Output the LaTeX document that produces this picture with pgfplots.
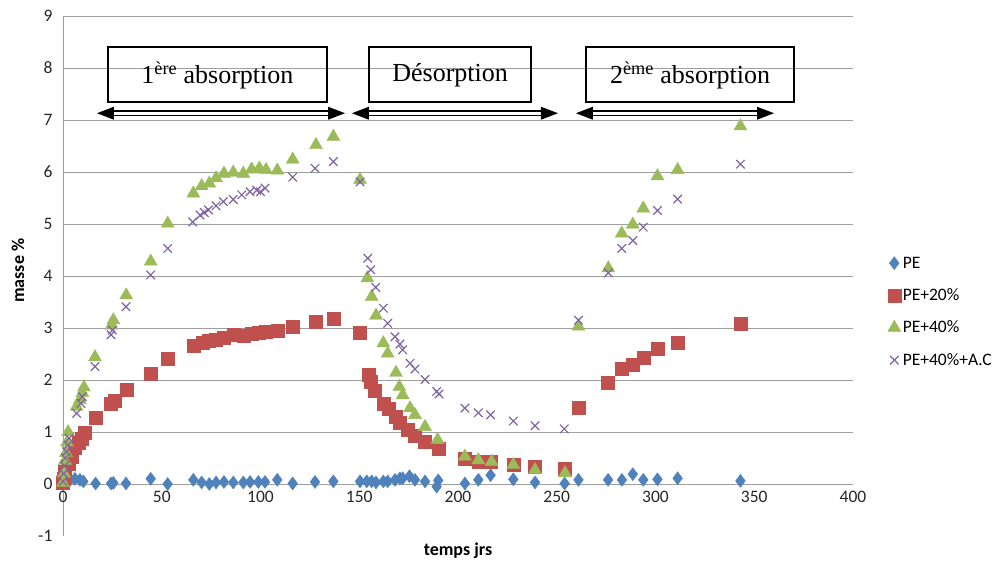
\documentclass[border=0pt]{standalone}
\usepackage{pgfplots}
\pgfplotsset{compat=1.18}
\usepackage{pgfplotstable}
\usepackage{fontspec}
\setmainfont{Liberation Serif}
\newfontfamily\calibri{Carlito}
\definecolor{cPE}{HTML}{4F81BD}
\definecolor{cPEa}{HTML}{C0504D}
\definecolor{cPEb}{HTML}{9BBB59}
\definecolor{cPEc}{HTML}{8064A2}

\pgfplotstableread{
t y
0 0.00
1 0.03
3 0.05
6 0.10
8.6 0.08
10.3 0.05
16.5 0.01
24.3 0.01
25.5 0.02
31.9 0.01
44.4 0.10
53 0.00
66 0.08
70.2 0.03
74.1 0.00
77.5 0.03
81.5 0.04
86.2 0.03
91.3 0.03
94.7 0.04
98.9 0.04
102.3 0.04
108.5 0.08
116.3 0.01
127.6 0.04
136.9 0.05
150.4 0.05
153.8 0.05
156.3 0.05
158.5 0.03
162.2 0.05
164.4 0.05
168.1 0.08
170.6 0.11
172 0.11
175.4 0.15
178.2 0.08
183.3 0.05
189.2 -0.05
190 0.07
203.5 0.01
210.3 0.08
216.5 0.17
228 0.09
239 0.03
254 0.01
261 0.08
276 0.08
283 0.08
288.5 0.19
293.8 0.08
301 0.09
311.2 0.11
343 0.06
}\tPE

\pgfplotstableread{
t y
0 0.02
0.5 0.11
1 0.24
2.7 0.40
4.4 0.53
6 0.70
7.8 0.79
9.5 0.88
11 0.98
16.5 1.27
24.3 1.55
26 1.60
32 1.81
44.6 2.12
52.8 2.40
66 2.65
70.7 2.72
74 2.75
77.5 2.78
81.2 2.82
86.2 2.88
91.3 2.86
95.5 2.89
98.9 2.91
102.8 2.92
108.5 2.94
116.3 3.03
128.1 3.13
137 3.18
150.4 2.91
154.6 2.10
155.8 1.97
158 1.79
162.2 1.55
164.7 1.44
168.6 1.29
170.6 1.17
174.3 1.04
178.2 0.92
183.3 0.81
190 0.67
203.5 0.49
210.3 0.43
216.5 0.43
228 0.37
239 0.33
254 0.30
261 1.47
276 1.94
283 2.22
288.5 2.29
293.8 2.42
301 2.61
311.2 2.72
343 3.09
}\tPEa

\pgfplotstableread{
t y
0 0.02
0.5 0.20
1 0.45
1.5 0.60
2 0.80
2.6 1.00
6.9 1.49
8.6 1.62
9.8 1.75
10.6 1.86
16.2 2.44
24.6 3.05
25.5 3.15
32 3.63
44.4 4.28
53 5.01
66 5.59
70.2 5.73
74.1 5.78
77.5 5.88
81.5 5.97
86.2 5.99
91.3 5.97
95.5 6.05
99.4 6.07
102.8 6.04
108.5 6.03
116.3 6.24
128.1 6.52
136.9 6.68
150.4 5.85
154.1 3.96
156.3 3.60
158.5 3.24
162.2 2.71
164.4 2.51
168.6 2.14
170.3 1.87
172 1.71
175.7 1.46
178.2 1.33
183.3 1.10
189.7 0.85
203.5 0.53
210.3 0.46
217 0.43
228 0.37
239 0.27
254.2 0.21
261 3.03
276.1 4.15
282.9 4.82
288.5 4.99
293.8 5.30
301 5.92
311.2 6.04
343 6.88
}\tPEb

\pgfplotstableread{
t y
0 0.05
0.3 0.20
0.8 0.35
1.2 0.50
1.8 0.62
2.5 0.75
3.2 0.88
6.9 1.36
9.1 1.55
9.8 1.68
16.2 2.26
24.3 2.87
25 2.96
31.9 3.41
44.4 4.02
53 4.53
65.7 5.04
69.4 5.17
71.5 5.22
73.6 5.27
77.5 5.35
81.2 5.43
86.2 5.47
90.5 5.56
94.7 5.62
98.1 5.65
100 5.62
102.3 5.69
116.3 5.90
127.6 6.07
136.9 6.20
150.4 5.81
154.3 4.34
155.8 4.12
158.3 3.78
162.2 3.38
164.4 3.09
168.1 2.83
170.6 2.69
172 2.58
175.7 2.32
178.2 2.21
183.3 2.01
189.2 1.78
190.4 1.73
203.5 1.46
210.3 1.37
216.5 1.33
228 1.21
239 1.12
253.8 1.06
261 3.15
276.1 4.06
282.9 4.53
288.5 4.68
293.8 4.94
301 5.26
311.2 5.48
343 6.15
}\tPEc

\begin{document}
\begin{tikzpicture}
\useasboundingbox (0,0) rectangle (995pt,560pt);
\begin{axis}[
  at={(63pt,24pt)}, anchor=south west,
  scale only axis, width=790pt, height=520pt,
  xmin=0, xmax=400, ymin=-1, ymax=9,
  axis x line=middle, axis y line=left,
  hide obscured x ticks=false, hide obscured y ticks=false,
  axis line style={draw=gray!75, line width=0.8pt, -},
  xtick={0,50,...,400}, ytick={0,1,...,9},
  extra y ticks={-1}, extra y tick style={grid=none},
  ymajorgrids, major grid style={draw=gray!75, line width=0.8pt},
  major tick length=0pt,
  /pgf/number format/assume math mode=true,
  tick label style={font=\calibri\fontsize{17.5}{17.5}\selectfont, text=black!85},
  xticklabel style={yshift=-4pt},
  yticklabel style={xshift=-7pt},
  xlabel={temps jrs}, ylabel={masse \%},
  xlabel style={at={(rel axis cs:0.5,0)}, anchor=north, yshift=-3pt, font=\calibri\bfseries\fontsize{18}{18}\selectfont},
  ylabel style={at={(axis description cs:-0.057,0.51)}, anchor=center, font=\calibri\bfseries\fontsize{18}{18}\selectfont},
  clip=false,
  legend style={at={(1.04,0.545)}, anchor=north west, draw=none, fill=none,
    font=\calibri\fontsize{17.5}{17.5}\selectfont, row sep=15pt},
  legend cell align=left,
]
\addplot[only marks, mark=diamond*, mark size=6.5pt, color=cPE] table[x=t,y=y] {\tPE};
\addlegendentry{PE}
\addplot[only marks, mark=square*, mark size=6.5pt, color=cPEa] table[x=t,y=y] {\tPEa};
\addlegendentry{PE+20\%}
\addplot[only marks, mark=triangle*, mark size=7.5pt, color=cPEb] table[x=t,y=y] {\tPEb};
\addlegendentry{PE+40\%}
\addplot[only marks, mark=x, mark size=6pt, line width=1.2pt, color=cPEc] table[x=t,y=y] {\tPEc};
\addlegendentry{PE+40\%+A.C}

\draw[line width=1.5pt] (axis cs:22.8,7.35) rectangle (axis cs:133.7,8.40);
\node[font=\fontsize{26}{26}\selectfont] at (axis cs:78.2,7.86) {1\textsuperscript{ère} absorption};
\draw[line width=1.5pt] (axis cs:154.9,7.35) rectangle (axis cs:237.0,8.40);
\node[font=\fontsize{26}{26}\selectfont] at (axis cs:196,7.86) {Désorption};
\draw[line width=1.5pt] (axis cs:264.8,7.35) rectangle (axis cs:370.1,8.40);
\node[font=\fontsize{26}{26}\selectfont] at (axis cs:317.5,7.86) {2\textsuperscript{ème} absorption};
% arrows
\fill (axis cs:17.2,7.13) -- (axis cs:25.8,7.255) -- (axis cs:25.8,7.005) -- cycle;
\fill (axis cs:142.8,7.13) -- (axis cs:134.2,7.255) -- (axis cs:134.2,7.005) -- cycle;
\draw[line width=1.3pt] (axis cs:25,7.172) -- (axis cs:135,7.172);
\draw[line width=1.3pt] (axis cs:25,7.088) -- (axis cs:135,7.088);
\fill (axis cs:146.3,7.13) -- (axis cs:154.9,7.255) -- (axis cs:154.9,7.005) -- cycle;
\fill (axis cs:250.6,7.13) -- (axis cs:242.0,7.255) -- (axis cs:242.0,7.005) -- cycle;
\draw[line width=1.3pt] (axis cs:154,7.172) -- (axis cs:242.8,7.172);
\draw[line width=1.3pt] (axis cs:154,7.088) -- (axis cs:242.8,7.088);
\fill (axis cs:259.7,7.13) -- (axis cs:268.3,7.255) -- (axis cs:268.3,7.005) -- cycle;
\fill (axis cs:360,7.13) -- (axis cs:351.4,7.255) -- (axis cs:351.4,7.005) -- cycle;
\draw[line width=1.3pt] (axis cs:267.5,7.172) -- (axis cs:352.2,7.172);
\draw[line width=1.3pt] (axis cs:267.5,7.088) -- (axis cs:352.2,7.088);
\end{axis}
\end{tikzpicture}
\end{document}
